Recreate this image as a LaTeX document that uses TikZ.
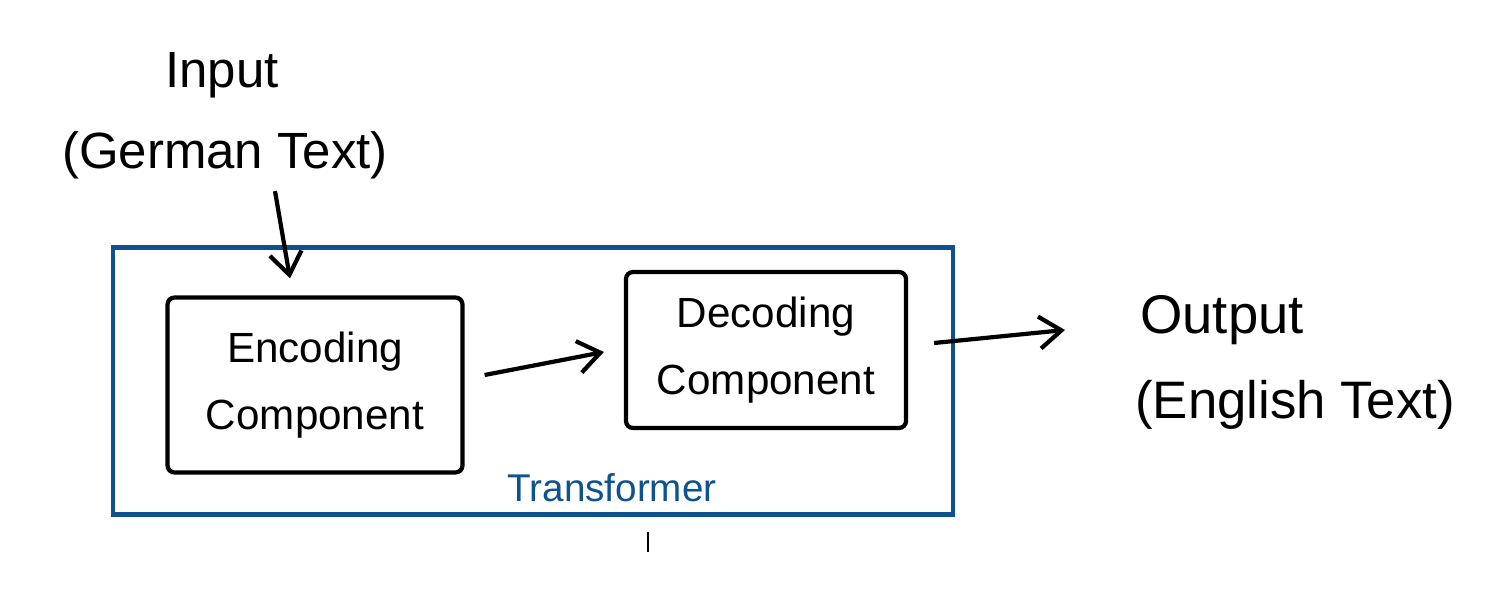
\documentclass[tikz,border=0pt]{standalone}
\usepackage{fontspec}
\setmainfont{Liberation Sans}
\usetikzlibrary{arrows.meta}
\definecolor{tfblue}{HTML}{0E5290}

\begin{document}
\begin{tikzpicture}[
  comp/.style={
    draw, line width=1.2pt, rounded corners=2pt,
    minimum width=2.95cm, minimum height=1.75cm,
    font=\fontsize{12}{19}\selectfont, align=center
  },
  frame/.style={draw=tfblue, line width=1.3pt,
    minimum width=8.4cm, minimum height=2.67cm},
  lbl/.style={font=\fontsize{14.5}{17}\selectfont},
  arr/.style={-{Straight Barb[length=2.2mm,width=3.2mm]}, line width=1.2pt}
]
% --- page ---
\useasboundingbox (0,0) rectangle (15.1,-5.92);

% --- Transformer ---
\node[frame] (tf) at (5.33,-3.81) {};
\node[text=tfblue, font=\fontsize{11}{13}\selectfont] (tflabel) at (6.12,-4.88) {Transformer};

\node[comp] (enc) at (3.15,-3.85) {Encoding\\Component};
\node[comp, minimum width=2.8cm, minimum height=1.56cm] (dec) at (7.66,-3.50) {Decoding\\Component};

% --- Input ---
\node[lbl] (in1) at (2.22,-0.75) {Input};
\node[lbl] (in2) at (2.25,-1.55) {(German Text)};

% --- Output ---
\node[lbl, font=\fontsize{15.5}{18}\selectfont] (out1) at (12.22,-3.20) {Output};
\node[lbl, font=\fontsize{15}{18}\selectfont] (out2) at (12.95,-4.05) {(English Text)};
\coordinate (outin) at (10.65,-3.30);

% --- connectors ---
\draw[arr] ([xshift=5mm]in2.south) -- ([xshift=-2.5mm,yshift=1.7mm]enc.north);
\draw[arr] ([xshift=2mm,yshift=1mm]enc.east) -- ([xshift=-2mm,yshift=-0.2mm]dec.west);
\draw[arr] ([xshift=2.6mm,yshift=0.7mm]dec.east) -- (outin);

% small tick under the frame
\coordinate (tick) at (6.48,-5.32);
\draw[line width=0.5pt] (tick) -- ++(0,-0.2);
\end{tikzpicture}
\end{document}
